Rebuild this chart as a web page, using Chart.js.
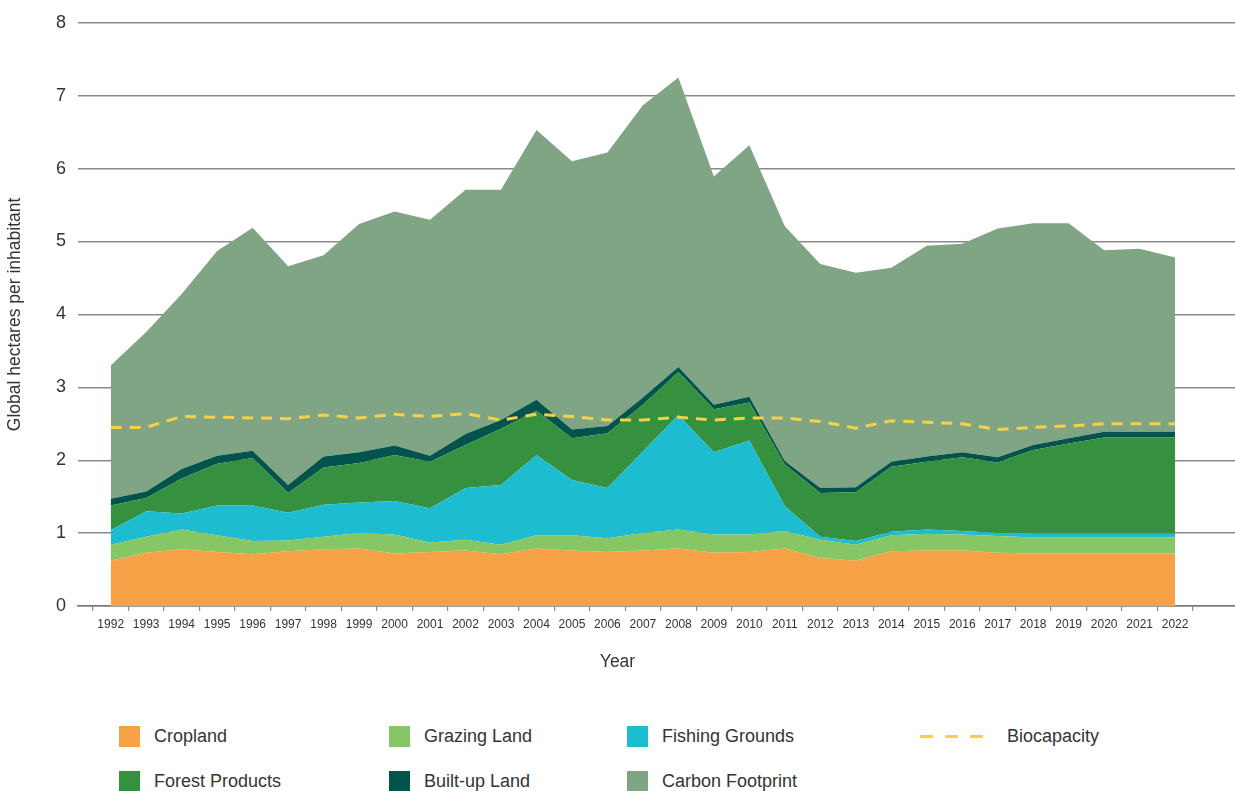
<!DOCTYPE html>
<html>
<head>
<meta charset="utf-8">
<script src="https://cdn.jsdelivr.net/npm/chart.js@4.4.1/dist/chart.umd.min.js"></script>
<style>
  body { margin: 0; background: #fff; font-family: "Liberation Sans", Arial, sans-serif; }
  #wrap { position: relative; width: 1235px; height: 791px; overflow: hidden; }
  #chart { position: absolute; left: 0; top: 0; }
  #legend { position: absolute; left: 119px; top: 726px; display: grid;
    grid-template-columns: 270px 238px 293px auto; row-gap: 24px; }
  .item { display: flex; align-items: center; height: 21px; font-size: 18px; color: #333; white-space: nowrap; }
  .swatch { width: 21px; height: 21px; margin-right: 14px; }
  .dash { width: 63px; height: 3px; margin-right: 24px;
    background: repeating-linear-gradient(to right, #f7d046 0 13px, transparent 13px 25px); }
</style>
</head>
<body>
<div id="wrap">
  <canvas id="chart" width="1235" height="700"></canvas>
  <div id="legend"></div>
</div>
<script>
const years = [1992, 1993, 1994, 1995, 1996, 1997, 1998, 1999, 2000, 2001, 2002, 2003, 2004, 2005, 2006, 2007,
  2008, 2009, 2010, 2011, 2012, 2013, 2014, 2015, 2016, 2017, 2018, 2019, 2020, 2021, 2022]

// global hectares per inhabitant, by component
const cropland = [0.62, 0.73, 0.78, 0.74, 0.71, 0.75, 0.78, 0.79, 0.72, 0.74, 0.76, 0.71, 0.79, 0.76, 0.74, 0.76,
  0.79, 0.73, 0.74, 0.79, 0.66, 0.62, 0.75, 0.76, 0.76, 0.73, 0.72, 0.72, 0.72, 0.72, 0.72]
const grazingLand = [0.22, 0.22, 0.27, 0.23, 0.18, 0.15, 0.17, 0.21, 0.26, 0.13, 0.15, 0.13, 0.18, 0.21, 0.19, 0.24,
  0.26, 0.25, 0.24, 0.24, 0.25, 0.22, 0.22, 0.23, 0.22, 0.23, 0.22, 0.22, 0.22, 0.22, 0.22]
const fishingGrounds = [0.20, 0.35, 0.22, 0.41, 0.49, 0.38, 0.44, 0.42, 0.46, 0.47, 0.71, 0.82, 1.10, 0.76, 0.69, 1.12,
  1.57, 1.13, 1.29, 0.34, 0.04, 0.05, 0.05, 0.06, 0.05, 0.04, 0.05, 0.05, 0.05, 0.05, 0.05]
const forestProducts = [0.34, 0.18, 0.48, 0.57, 0.65, 0.27, 0.51, 0.54, 0.63, 0.64, 0.59, 0.77, 0.61, 0.57, 0.75, 0.64,
  0.59, 0.59, 0.52, 0.57, 0.60, 0.67, 0.89, 0.93, 1.01, 0.97, 1.15, 1.24, 1.32, 1.32, 1.32]
const builtUpLand = [0.09, 0.09, 0.13, 0.11, 0.10, 0.11, 0.15, 0.15, 0.13, 0.08, 0.15, 0.12, 0.15, 0.12, 0.10, 0.10,
  0.07, 0.06, 0.08, 0.05, 0.07, 0.07, 0.07, 0.07, 0.07, 0.07, 0.07, 0.07, 0.08, 0.08, 0.08]
const carbonFootprint = [1.83, 2.19, 2.40, 2.81, 3.06, 3.00, 2.76, 3.13, 3.21, 3.24, 3.35, 3.16, 3.70, 3.68, 3.75, 4.01,
  3.97, 3.13, 3.45, 3.22, 3.07, 2.94, 2.66, 2.89, 2.86, 3.14, 3.04, 2.95, 2.49, 2.51, 2.39]
const biocapacity = [2.45, 2.45, 2.60, 2.59, 2.58, 2.57, 2.62, 2.58, 2.63, 2.60, 2.64, 2.55, 2.63, 2.60, 2.55, 2.55,
  2.59, 2.55, 2.58, 2.58, 2.53, 2.44, 2.54, 2.52, 2.50, 2.42, 2.45, 2.47, 2.50, 2.50, 2.50]

const yTicks = [0, 1, 2, 3, 4, 5, 6, 7, 8]

const textColor = '#333'
const gridColor = '#8a8a8a'

function area(label, data, color, fill) {
  return {
    label: label,
    data: data,
    backgroundColor: color,
    borderColor: color,
    borderWidth: 0,
    pointRadius: 0,
    fill: fill,
    stack: 'footprint',
    order: 1
  }
}

const ctx = document.querySelector('#chart')

const myChart = new Chart(ctx, {
  type: 'line',

  data: {
    labels: years,

    datasets: [
      area('Cropland', cropland, '#f6a146', 'origin'),
      area('Grazing Land', grazingLand, '#86c665', '-1'),
      area('Fishing Grounds', fishingGrounds, '#1dbcd1', '-1'),
      area('Forest Products', forestProducts, '#35913f', '-1'),
      area('Built-up Land', builtUpLand, '#02534b', '-1'),
      area('Carbon Footprint', carbonFootprint, '#80a585', '-1'),
      {
        label: 'Biocapacity',
        data: biocapacity,
        borderColor: '#f7d046',
        borderWidth: 3,
        borderDash: [11, 8],
        pointRadius: 0,
        fill: false,
        stack: 'bio',
        order: 0
      }
    ]
  },

  options: {
    responsive: false,
    animation: false,
    devicePixelRatio: 1,
    layout: { padding: { top: 18, right: 0, bottom: 0, left: 0 } },

    plugins: {
      legend: { display: false },
      tooltip: { enabled: false },
      title: {
        display: true,
        position: 'bottom',
        text: 'Year',
        color: textColor,
        font: { family: '"Liberation Sans", Arial, sans-serif', size: 17.5, weight: 'normal' },
        padding: { top: 0, bottom: 27 }
      }
    },

    scales: {
      x: {
        type: 'linear',
        min: 1991.078,
        max: 2023.688,
        afterBuildTicks: (s) => { s.ticks = years.map(v => ({ value: v })) },
        afterFit: (s) => { s.height = 46 },
        grid: { offset: true, drawOnChartArea: false, tickLength: 5, color: gridColor, lineWidth: 1.2 },
        border: { color: '#777', width: 1.5 },
        ticks: {
          autoSkip: false,
          maxRotation: 0,
          padding: 6,
          color: textColor,
          font: { family: '"Liberation Sans", Arial, sans-serif', size: 12 },
          callback: (v) => String(v)
        }
      },
      y: {
        stacked: true,
        min: 0,
        max: 8,
        afterBuildTicks: (s) => { s.ticks = yTicks.map(v => ({ value: v })) },
        afterFit: (s) => { s.width = 78 },
        grid: { color: gridColor, lineWidth: 1.4, drawTicks: false },
        border: { display: false },
        ticks: {
          padding: 12,
          color: textColor,
          font: { family: '"Liberation Sans", Arial, sans-serif', size: 18 }
        },
        title: {
          display: true,
          text: 'Global hectares per inhabitant',
          color: textColor,
          font: { family: '"Liberation Sans", Arial, sans-serif', size: 17.5 },
          padding: { top: 5, bottom: 0 }
        }
      }
    }
  }
})

// Legend (two rows, fixed column order as in the original figure)
const legendOrder = ['Cropland', 'Grazing Land', 'Fishing Grounds', 'Biocapacity',
  'Forest Products', 'Built-up Land', 'Carbon Footprint']
const legendBox = document.querySelector('#legend')

legendOrder.forEach((name) => {
  const ds = myChart.data.datasets.find(d => d.label === name)
  const item = document.createElement('div')
  item.className = 'item'
  const mark = document.createElement('span')
  if (ds.fill === false) {
    mark.className = 'dash'
  } else {
    mark.className = 'swatch'
    mark.style.background = ds.backgroundColor
  }
  item.appendChild(mark)
  item.appendChild(document.createTextNode(name))
  legendBox.appendChild(item)
})
</script>
</body>
</html>
